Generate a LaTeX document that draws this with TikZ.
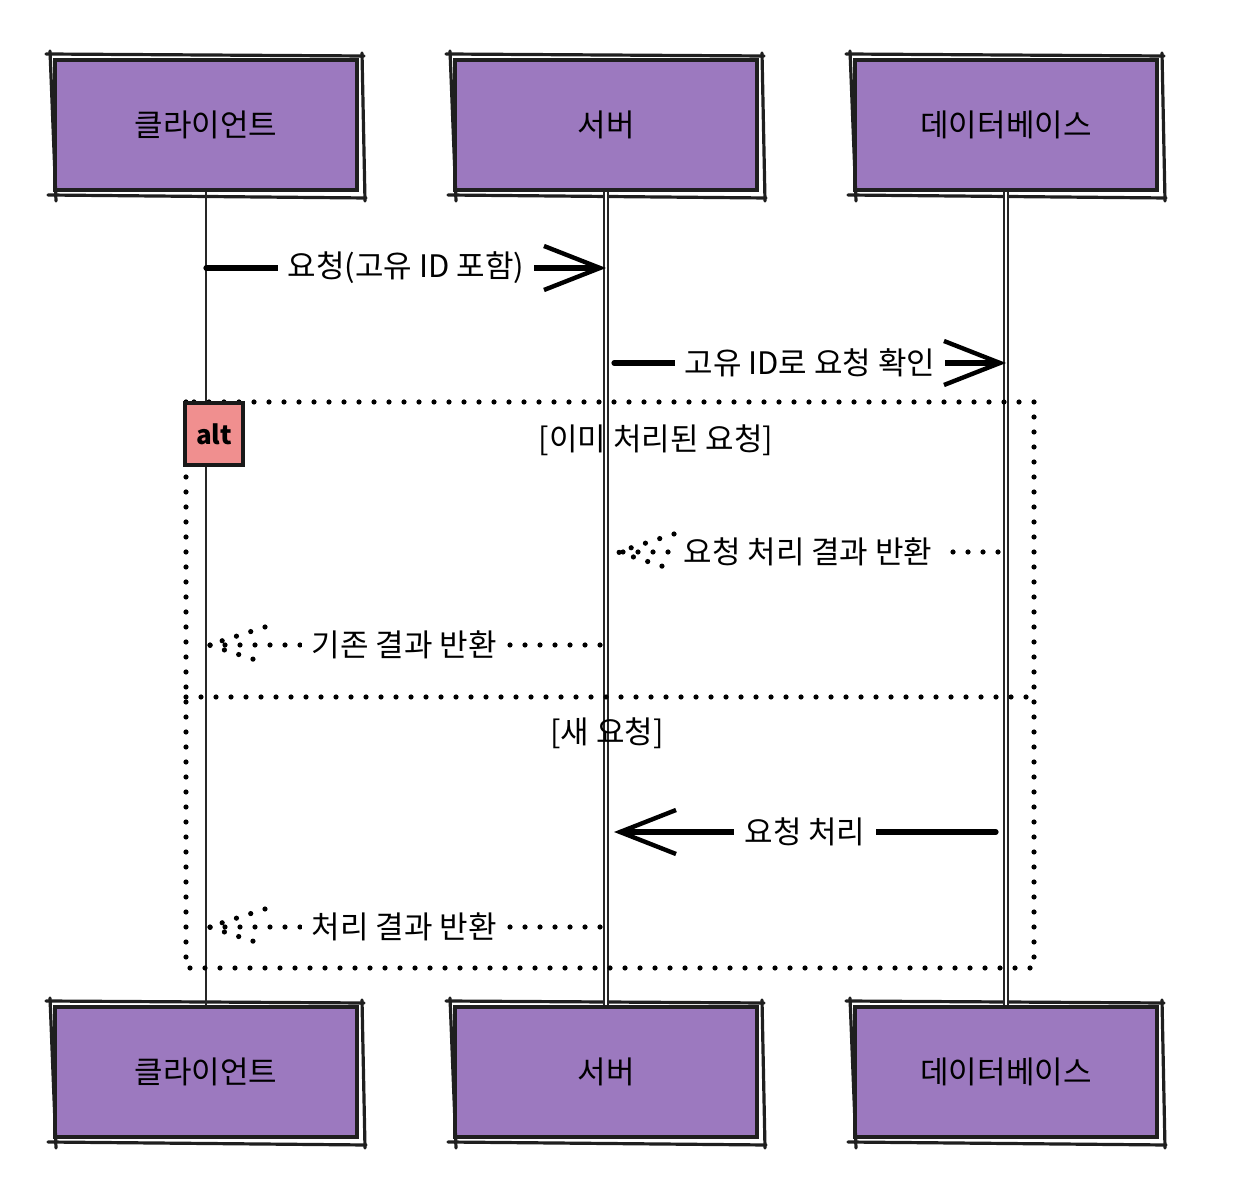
\documentclass[tikz,border=0pt]{standalone}
\usepackage{fontspec}
\setmainfont{Noto Sans CJK KR}
\usetikzlibrary{arrows.meta,calc,positioning}
\definecolor{actorfill}{HTML}{9C79BF}
\definecolor{altfill}{HTML}{F08F8F}

\begin{document}
\begin{tikzpicture}[x=0.5pt,y=-0.5pt,
  actor/.style={fill=actorfill,draw=black!88,line width=2pt,minimum width=151pt,minimum height=65pt,inner sep=0pt,font=\fontsize{15.5}{18}\selectfont},
  sketch/.style={draw=black!88,line width=1.6pt,line cap=round},
  lifeline/.style={draw=black!85,line width=0.8pt},
  dlifeline/.style={draw=black!85,line width=0.6pt,double,double distance=1.4pt},
  msg/.style={line width=2.6pt,line cap=round,-{Straight Barb[length=28pt,width=22pt,line width=2.2pt]}},
  dots/.style={line width=2.6pt,line cap=round,dash pattern=on 0pt off 7.5pt},
  lbl/.style={fill=white,inner xsep=5pt,inner ysep=2pt,font=\fontsize{15.5}{18}\selectfont},
  seclbl/.style={font=\fontsize{15.5}{18}\selectfont},
  altbox/.style={fill=altfill,draw=black!90,line width=2.4pt,minimum width=29pt,minimum height=31pt,inner sep=0pt,font=\fontsize{13}{15}\selectfont\bfseries}]
\useasboundingbox (0,0) rectangle (1254,1202);

% Participants, top and bottom
\node[actor] (cliT) at (206,125) {클라이언트};
\node[actor] (srvT) at (606,125) {서버};
\node[actor] (dbT) at (1006,125) {데이터베이스};
\node[actor] (cliB) at (206,1072) {클라이언트};
\node[actor] (srvB) at (606,1072) {서버};
\node[actor] (dbB) at (1006,1072) {데이터베이스};

% rough second outline
\foreach \n in {cliT,srvT,dbT,cliB,srvB,dbB}{
  \draw[sketch] ($(\n.north west)+(-7,-4)$) -- ($(\n.north east)+(5,-2)$);
  \draw[sketch] ($(\n.south west)+(-5,3)$) -- ($(\n.south east)+(7,6)$);
  \draw[sketch] ($(\n.north west)+(-3,-7)$) -- ($(\n.south west)+(3,9)$);
  \draw[sketch] ($(\n.north east)+(3,-5)$) -- ($(\n.south east)+(6,9)$);
}

% Lifelines
\draw[lifeline] (cliT) -- (cliB);
\draw[dlifeline] (srvT) -- (srvB);
\draw[dlifeline] (dbT) -- (dbB);

% Section labels
\node[seclbl] (sec1) at (656,440) {[이미 처리된 요청]};
\node[seclbl] (sec2) at (607,733) {[새 요청]};

% alt frame
\coordinate (fnw) at (186,402);
\coordinate (fse) at (1034,968);
\coordinate (sepL) at (186,697);
\coordinate (sepR) at (1034,697);
\draw[dots] (fnw) rectangle (fse);
\draw[dots] (sepL) -- (sepR);
\node[altbox] (alt) at (214,434) {alt};

% Message ends
\coordinate (c1) at (206,268);
\coordinate (s1) at (606,268);
\coordinate (s2) at (614,363);
\coordinate (d2) at (1006,363);
\coordinate (d3) at (998,552);
\coordinate (s3) at (618,552);
\coordinate (s4) at (600,645);
\coordinate (c4) at (209,645);
\coordinate (d5) at (996,832);
\coordinate (s5) at (614,832);
\coordinate (s6) at (600,927);
\coordinate (c6) at (209,927);

% Messages
\draw[msg] (c1) -- node[lbl] (m1) {요청(고유 ID 포함)} (s1);
\draw[msg] (s2) -- node[lbl] (m2) {고유 ID로 요청 확인} (d2);

\draw[dots] (d3) -- node[lbl] (m3) {요청 처리 결과 반환} (s3);
\draw[dots] ($(s3)+(56,-18)$) -- (s3) -- ($(s3)+(56,18)$);

\draw[dots] (s4) -- node[lbl] (m4) {기존 결과 반환} (c4);
\draw[dots] ($(c4)+(56,-18)$) -- (c4) -- ($(c4)+(56,18)$);

\draw[msg] (d5) -- node[lbl] (m5) {요청 처리} (s5);

\draw[dots] (s6) -- node[lbl] (m6) {처리 결과 반환} (c6);
\draw[dots] ($(c6)+(56,-18)$) -- (c6) -- ($(c6)+(56,18)$);
\end{tikzpicture}
\end{document}
